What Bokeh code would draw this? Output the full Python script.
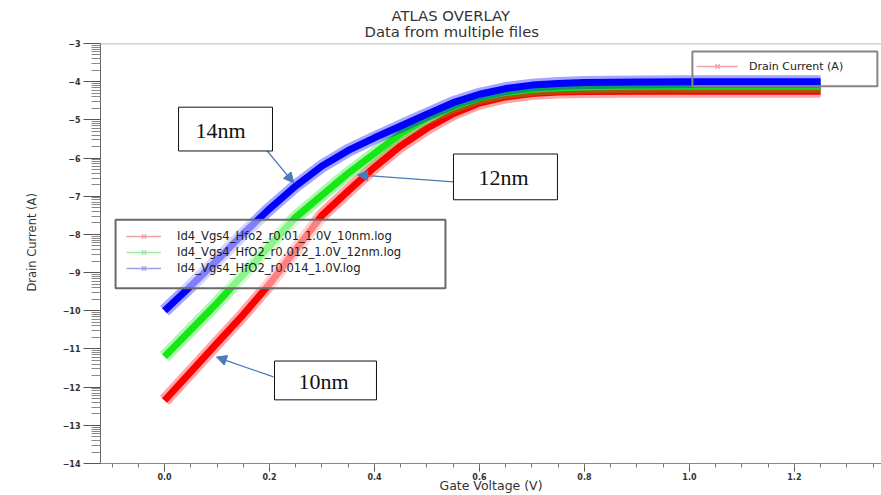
from bokeh.plotting import figure
from bokeh.models import (Range1d, FixedTicker, Legend, LegendItem, Label, Arrow,
                          NormalHead, BoxAnnotation, Span, Title)
from bokeh.embed import file_html
from bokeh.resources import INLINE
import math

# ---------------- data ----------------
gate_v = [0.0, 0.05, 0.10, 0.15, 0.20, 0.25, 0.30, 0.35, 0.40, 0.45, 0.50,
          0.55, 0.60, 0.65, 0.70, 0.75, 0.80, 0.90, 1.00, 1.10, 1.25]
id_10nm = [-12.35, -11.60, -10.85, -10.10, -9.30, -8.40, -7.50, -6.86, -6.24, -5.68, -5.22,
           -4.84, -4.56, -4.40, -4.31, -4.27, -4.26, -4.25, -4.25, -4.25, -4.25]
id_12nm = [-11.20, -10.50, -9.80, -9.05, -8.30, -7.55, -6.97, -6.40, -5.88, -5.36, -4.95,
           -4.66, -4.42, -4.28, -4.20, -4.16, -4.14, -4.12, -4.12, -4.12, -4.12]
id_14nm = [-10.00, -9.35, -8.68, -7.98, -7.33, -6.73, -6.21, -5.80, -5.47, -5.16, -4.85,
           -4.55, -4.33, -4.18, -4.09, -4.05, -4.02, -4.01, -4.00, -4.00, -4.00]

series_labels = ["Id4_Vgs4_Hfo2_r0.01_1.0V_10nm.log",
                 "Id4_Vgs4_HfO2_r0.012_1.0V_12nm.log",
                 "Id4_Vgs4_HfO2_r0.014_1.0V.log"]
series_colors = ["#ff0000", "#16e816", "#0000ff"]
legend_colors = ["#f0a0aa", "#9ee89e", "#9e9ee8"]

x_major = [0.0, 0.2, 0.4, 0.6, 0.8, 1.0, 1.2]
x_major_labels = ["0.0", "0.2", "0.4", "0.6", "0.8", "1.0", "1.2"]
x_minor = [round(-0.10 + 0.05 * k, 2) for k in range(30)]
y_major = list(range(-14, -2))
y_minor = [d + math.log10(k) for d in range(-14, -3) for k in range(2, 10)]

# ---------------- figure ----------------
p = figure(width=881, height=495, output_backend="svg", toolbar_location=None,
           x_range=Range1d(-0.122, 1.366), y_range=Range1d(-14, -3),
           min_border_left=100, min_border_right=0, min_border_top=43, min_border_bottom=30,
           background_fill_color="white", border_fill_color="white")
p.grid.visible = False
p.outline_line_color = None

sub = Title(text="Data from multiple files", align="left", offset=264,
            text_font="DejaVu Sans", text_font_size="14.8px", text_font_style="normal",
            text_color="#333333", standoff=8)
main = Title(text="ATLAS OVERLAY", align="left", offset=291,
             text_font="DejaVu Sans", text_font_size="14.8px", text_font_style="normal",
             text_color="#333333", standoff=-15)
p.add_layout(sub, "above")
p.add_layout(main, "above")

p.add_layout(Span(location=-3, dimension="width", line_color="#a8a8a8", line_width=1.5))

# axes
xa = p.xaxis[0]
xa.ticker = FixedTicker(ticks=x_major, minor_ticks=x_minor)
xa.major_label_overrides = {v: s for v, s in zip(x_major, x_major_labels)}
xa.axis_label = "Gate Voltage (V)"
xa.axis_label_text_font = "DejaVu Sans"
xa.axis_label_text_font_size = "12.5px"
xa.axis_label_text_font_style = "normal"
xa.axis_label_text_color = "#333333"
xa.axis_label_standoff = -5
xa.major_label_text_font = "DejaVu Sans"
xa.major_label_text_font_size = "8px"
xa.major_label_text_font_style = "bold"
xa.major_label_text_color = "#333333"
xa.major_label_standoff = 1
xa.major_tick_out = 8
xa.major_tick_in = 0
xa.minor_tick_out = 4
xa.minor_tick_in = 0
xa.axis_line_color = "#8a8a8a"
xa.major_tick_line_color = "#555555"
xa.minor_tick_line_color = "#777777"

ya = p.yaxis[0]
ya.ticker = FixedTicker(ticks=y_major, minor_ticks=y_minor)
ya.major_label_text_font = "DejaVu Sans"
ya.major_label_text_font_size = "8px"
ya.major_label_text_font_style = "bold"
ya.major_label_text_color = "#333333"
ya.major_label_standoff = 3
ya.major_tick_out = 17
ya.major_tick_in = 0
ya.minor_tick_out = 9
ya.minor_tick_in = 0
ya.axis_line_color = "#666666"
ya.major_tick_line_color = "#555555"
ya.minor_tick_line_color = "#888888"

# y axis title (placed a little above the frame centre, as in the reference)
ylab = Title(text="Drain Current (A)", align="left", offset=172,
             text_font="DejaVu Sans", text_font_size="11.5px", text_font_style="normal",
             text_color="#333333", standoff=42)
p.add_layout(ylab, "left")

# curves: wide translucent halo + saturated core
curves = [id_10nm, id_12nm, id_14nm]
for ys, c in zip(curves, series_colors):
    p.line(gate_v, ys, line_color=c, line_width=13, line_alpha=0.35, line_join="round")
    p.line(gate_v, ys, line_color=c, line_width=7, line_alpha=1.0, line_join="round")

# legend proxies (invisible renderers, only used for legend glyphs)
items = []
for ys, lc, lab in zip(curves, legend_colors, series_labels):
    lr = p.line(gate_v, ys, line_color=lc, line_width=1.5, visible=False)
    sr = p.scatter(gate_v, ys, marker="x", size=8, line_color=lc, line_width=1.3, visible=False)
    items.append(LegendItem(label=lab, renderers=[lr, sr]))

# legend 1 box (translucent white, like the reference)
p.add_layout(BoxAnnotation(left=-0.0933, right=0.5352, top=-7.614, bottom=-9.413,
                           fill_color="white", fill_alpha=0.5,
                           line_color="#6a6a6a", line_alpha=1.0, line_width=2))
leg1 = Legend(items=items, location=(26, 187), orientation="vertical",
              padding=10, margin=0, spacing=0, glyph_width=35, glyph_height=16,
              label_height=16, label_standoff=16,
              label_text_font="DejaVu Sans", label_text_font_size="11.6px",
              label_text_color="#222222",
              border_line_color=None, background_fill_alpha=0.0)
p.add_layout(leg1)

# legend 2 (Drain Current (A))
dl = p.line(gate_v, id_10nm, line_color=legend_colors[0], line_width=1.5, visible=False)
ds = p.scatter(gate_v, id_10nm, marker="x", size=10, line_color=legend_colors[0],
               line_width=1.3, visible=False)
p.add_layout(BoxAnnotation(left=1.0057, right=1.3581, top=-3.209, bottom=-4.121,
                           fill_alpha=0.0, line_color="#858585", line_alpha=1.0, line_width=2))
leg2 = Legend(items=[LegendItem(label="Drain Current (A)", renderers=[dl, ds])],
              location=(596, 389), padding=2, margin=0, spacing=0,
              glyph_width=42, glyph_height=16, label_height=16, label_standoff=11,
              label_text_font="DejaVu Sans", label_text_font_size="11px",
              label_text_color="#222222",
              border_line_color=None, background_fill_alpha=0.0)
p.add_layout(leg2)

# call-out annotations
arrow_c = "#4a7ab8"
callouts = [
    # text, text x, text y, box (l, r, t, b), arrow (x0, y0, x1, y1)
    ("14nm", 0.1067, -5.27, (0.0267, 0.2057, -4.668, -5.815), (0.183, -5.607, 0.246, -6.650)),
    ("12nm", 0.6457, -6.52, (0.5505, 0.7486, -5.894, -7.093), (0.5505, -6.624, 0.3676, -6.441)),
    ("10nm", 0.3029, -11.84, (0.2095, 0.4038, -11.316, -12.333), (0.2076, -11.733, 0.099, -11.212)),
]
for txt, tx, ty, (l, r, t, b), (x0, y0, x1, y1) in callouts:
    p.add_layout(Arrow(end=NormalHead(size=10, fill_color=arrow_c, line_color=arrow_c),
                       x_start=x0, y_start=y0, x_end=x1, y_end=y1,
                       line_color=arrow_c, line_width=1.3))
    p.add_layout(BoxAnnotation(left=l, right=r, top=t, bottom=b, fill_color="white",
                               fill_alpha=1.0, line_color="#111111", line_alpha=1.0,
                               line_width=1))
    p.add_layout(Label(x=tx, y=ty, text=txt, text_align="center", text_baseline="middle",
                       text_font="Liberation Serif", text_font_size="22px",
                       text_color="#111111"))

open("out.html", "w").write(file_html(p, INLINE))
